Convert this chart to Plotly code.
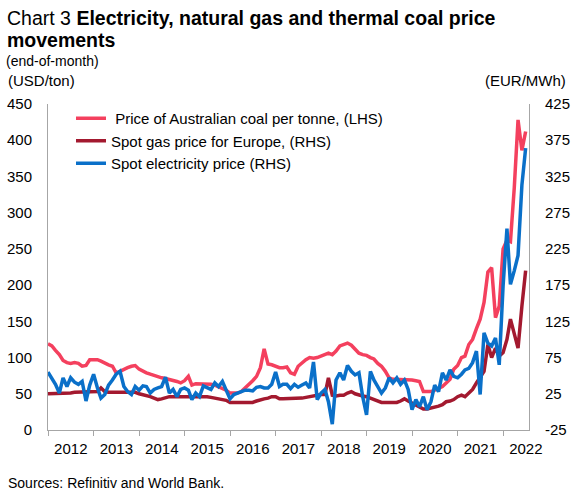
import pandas as pd
import plotly.graph_objects as go

# monthly, end-of-month observations, Jan 2012 - Jul 2022
months = pd.date_range("2012-01-01", periods=127, freq="MS")

# Australian coal, USD/ton (LHS)
coal_usd = [
    119, 116, 110, 104, 96, 93, 92, 93, 92, 88, 89, 97,
    97, 97, 95, 92, 90, 88, 79, 81, 84, 86, 88, 89,
    84, 81, 79, 77, 75, 74, 72, 71, 70, 69, 67, 65,
    68, 74, 62, 64, 64, 64, 63, 63, 62, 60, 57, 55,
    51, 51, 51, 53, 58, 62, 68, 74, 86, 112, 91, 90,
    88, 86, 86, 87, 79, 77, 88, 93, 97, 100, 99, 100,
    102, 105, 106, 104, 109, 116, 118, 120, 117, 111, 106, 104,
    103, 100, 98, 92, 88, 81, 72, 70, 70, 70, 69, 69,
    69, 68, 67, 53, 53, 53, 55, 57, 60, 65, 70, 84,
    89, 100, 102, 118, 125, 140, 153, 176, 218, 224, 155, 171,
    250, 262, 260, 335, 428, 386, 412,
]

# European spot gas, EUR/MWh (RHS)
gas_eur = [
    25, 25, 25, 26, 26, 26, 26, 27, 27, 27, 28, 28,
    28, 28, 33, 28, 27, 27, 27, 27, 27, 28, 28, 27,
    25, 24, 22, 21, 19, 17, 18, 20, 21, 21, 21, 21,
    21, 21, 21, 22, 22, 22, 21, 20, 19, 18, 18, 16,
    13, 13, 14, 14, 14, 13, 13, 15, 17, 18, 19, 21,
    21, 18, 18, 18, 18, 18, 18, 19, 20, 21, 23, 23,
    24, 24, 47, 23, 22, 23, 23, 26, 28, 25, 23, 22,
    21, 19, 18, 16, 13, 13, 13, 13, 13, 15, 18, 15,
    12, 9, 7, 4, 4, 5, 6, 8, 10, 14, 15, 17,
    21, 23, 21, 26, 31, 40, 48, 56, 93, 75, 88, 77,
    82, 100, 128, 105, 88, 146, 195,
]

# European spot electricity, EUR/MWh (RHS)
power_eur = [
    55, 47, 38, 26, 47, 35, 47, 41, 38, 42, 15, 37,
    52, 33, 19, 24, 37, 44, 52, 56, 35, 28, 24, 35,
    30, 36, 35, 26, 31, 33, 35, 48, 26, 31, 21, 31,
    33, 30, 17, 26, 21, 36, 33, 31, 40, 35, 42, 30,
    18, 24, 26, 28, 30, 30, 29, 34, 35, 33, 33, 38,
    55, 35, 38, 38, 32, 38, 34, 37, 40, 33, 69, 17,
    26, 31, 14, -17, 44, 54, 44, 64, 56, 51, 54, 21,
    -4, 56, 44, 35, 26, 33, 47, 40, 47, 38, 44, 31,
    3, 17, 7, 21, 3, 14, 37, 28, 54, 44, 58, 49,
    47, 52, 58, 60, 68, 84, 24, 109, 95, 91, 102, 65,
    174, 253, 176, 195, 216, 313, 364,
]

series_names = [
    " Price of Australian coal per tonne, (LHS)",
    "Spot gas price for Europe, (RHS)",
    "Spot electricity price (RHS)",
]

lhs_ticks = list(range(0, 451, 50))
rhs_ticks = list(range(-25, 426, 50))

FONT = "Liberation Sans, Arial, sans-serif"
W, H = 571, 493
L, R, T, B = 48, 42, 104, 63
AXIS_GREY = "#A6A6A6"


def px_x(x):
    return (x - L) / (W - L - R)


def px_y(y):
    return (H - B - y) / (H - T - B)


fig = go.Figure()
fig.add_trace(go.Scatter(
    x=months, y=coal_usd, name=series_names[0], mode="lines",
    line=dict(color="#F4405E", width=3.5), yaxis="y",
))
fig.add_trace(go.Scatter(
    x=months, y=gas_eur, name=series_names[1], mode="lines",
    line=dict(color="#A3192F", width=3.5), yaxis="y2",
))
fig.add_trace(go.Scatter(
    x=months, y=power_eur, name=series_names[2], mode="lines",
    line=dict(color="#0A70C9", width=3.5), yaxis="y2",
))

fig.update_layout(
    width=W,
    height=H,
    margin=dict(l=L, r=R, t=T, b=B, autoexpand=False),
    paper_bgcolor="white",
    plot_bgcolor="white",
    font=dict(family=FONT, size=15, color="black"),
    showlegend=True,
    legend=dict(
        x=px_x(71), y=px_y(102), xanchor="left", yanchor="top",
        bgcolor="rgba(0,0,0,0)", font=dict(size=15), traceorder="normal",
    ),
    xaxis=dict(
        type="date",
        range=["2012-01-01", "2022-07-28"],
        tick0="2012-01-01",
        dtick="M12",
        tickformat="%Y",
        ticklabelmode="period",
        ticks="outside",
        ticklen=5,
        tickcolor=AXIS_GREY,
        showline=True,
        linecolor=AXIS_GREY,
        showgrid=False,
        zeroline=False,
        automargin=False,
        tickfont=dict(size=15),
    ),
    yaxis=dict(
        range=[0, 450],
        tickmode="array",
        tickvals=lhs_ticks,
        ticktext=[str(v) for v in lhs_ticks],
        showline=True,
        linecolor=AXIS_GREY,
        showgrid=False,
        zeroline=False,
        ticks="",
        ticklabelstandoff=12,
        automargin=False,
        tickfont=dict(size=15),
    ),
    yaxis2=dict(
        range=[-25, 425],
        tickmode="array",
        tickvals=rhs_ticks,
        ticktext=[str(v) for v in rhs_ticks],
        overlaying="y",
        side="right",
        showline=True,
        linecolor=AXIS_GREY,
        showgrid=False,
        zeroline=False,
        ticks="",
        ticklabelstandoff=12,
        automargin=False,
        tickfont=dict(size=15),
    ),
)

notes = [
    dict(text="Chart 3 <b>Electricity, natural gas and thermal coal price</b>",
         x=px_x(5), y=px_y(18), xanchor="left", size=19.5),
    dict(text="<b>movements</b>", x=px_x(5), y=px_y(40), xanchor="left", size=19.5),
    dict(text="(end-of-month)", x=px_x(4), y=px_y(61), xanchor="left", size=14),
    dict(text="(USD/ton)", x=px_x(6), y=px_y(81), xanchor="left", size=15),
    dict(text="(EUR/MWh)", x=px_x(568), y=px_y(81), xanchor="right", size=15),
    dict(text="Sources: Refinitiv and World Bank.", x=px_x(6), y=px_y(483),
         xanchor="left", size=14),
]
for n in notes:
    fig.add_annotation(
        text=n["text"], x=n["x"], y=n["y"], xref="paper", yref="paper",
        xanchor=n["xanchor"], yanchor="middle", showarrow=False,
        font=dict(family=FONT, size=n["size"], color="black"),
    )

# drop the default page margin so the 571x493 figure sits at the window origin
fig.write_html(
    "out.html",
    config={"displayModeBar": False},
    post_script="document.body.style.margin='0';",
)
